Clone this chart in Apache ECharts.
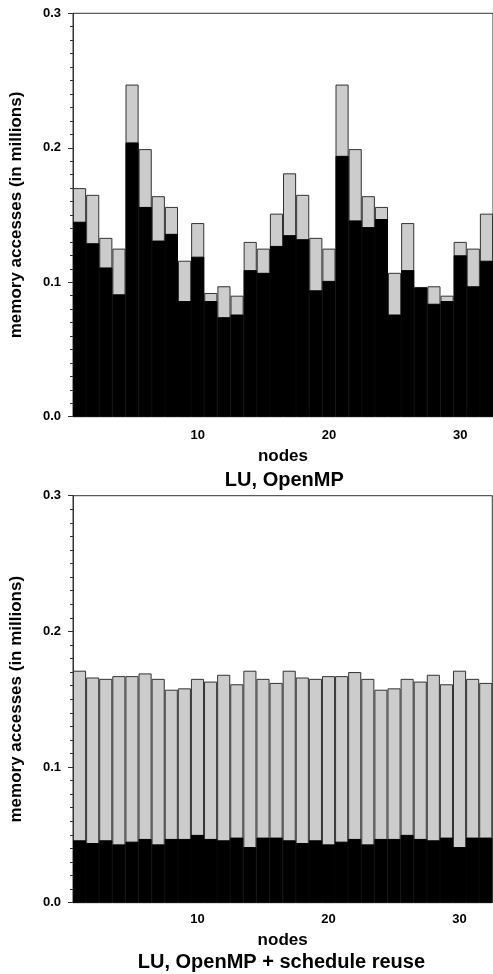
<!DOCTYPE html>
<html>
<head>
<meta charset="utf-8">
<script src="https://cdn.jsdelivr.net/npm/echarts@6/dist/echarts.min.js"></script>
<style>
  html, body { margin: 0; padding: 0; background: #fff; }
  #chart { width: 493px; height: 974px; }
</style>
</head>
<body>
<div id="chart"></div>
<script>
var nodes = [];
for (var i = 1; i <= 32; i++) nodes.push(String(i));

// LU, OpenMP
var luTotal = [0.170, 0.165, 0.133, 0.125, 0.247, 0.199, 0.164, 0.156, 0.116, 0.144, 0.092, 0.097, 0.090, 0.130, 0.125, 0.151,
               0.181, 0.165, 0.133, 0.125, 0.247, 0.199, 0.164, 0.156, 0.107, 0.144, 0.0965, 0.097, 0.090, 0.130, 0.125, 0.151];
var luPart  = [0.145, 0.129, 0.111, 0.091, 0.204, 0.156, 0.131, 0.136, 0.086, 0.119, 0.086, 0.074, 0.076, 0.109, 0.107, 0.127,
               0.135, 0.132, 0.094, 0.101, 0.194, 0.146, 0.141, 0.147, 0.076, 0.109, 0.096, 0.084, 0.086, 0.120, 0.097, 0.116];

// LU, OpenMP + schedule reuse
var reuseTotal = [0.171, 0.166, 0.165, 0.167, 0.167, 0.169, 0.165, 0.157, 0.158, 0.165, 0.163, 0.168, 0.161, 0.171, 0.165, 0.162,
                  0.171, 0.166, 0.165, 0.167, 0.167, 0.170, 0.165, 0.157, 0.158, 0.165, 0.163, 0.168, 0.161, 0.171, 0.165, 0.162];
var reusePart  = [0.046, 0.044, 0.046, 0.043, 0.045, 0.047, 0.043, 0.047, 0.047, 0.050, 0.047, 0.046, 0.048, 0.041, 0.048, 0.048,
                  0.046, 0.044, 0.046, 0.043, 0.045, 0.047, 0.043, 0.047, 0.047, 0.050, 0.047, 0.046, 0.048, 0.041, 0.048, 0.048];

var yTicks = [0, 0.1, 0.2, 0.3];
var titles = ['LU, OpenMP', 'LU, OpenMP + schedule reuse'];

var font = '"Liberation Sans", Arial, Helvetica, sans-serif';
var ink = '#333';

var grids = [
    { left: 72.5, top: 13.3, width: 423.6, height: 403.4, labelGap: 12, nameGap: 31, titleY: 480 },
    { left: 70.5, top: 495.7, width: 421.8, height: 407, labelGap: 10, nameGap: 29, titleY: 962 }
];

function xAxes(g) {
    return [{
        type: 'category', gridIndex: g, data: nodes, position: 'bottom',
        axisLine: { lineStyle: { color: ink } },
        axisTick: { interval: 0, alignWithLabel: true, length: 3, lineStyle: { color: ink } },
        axisLabel: {
            interval: function (idx) { return (idx + 1) % 10 === 0; },
            margin: grids[g].labelGap, fontFamily: font, fontWeight: 'bold', fontSize: 13, color: '#000'
        },
        name: 'nodes', nameLocation: 'middle', nameGap: grids[g].nameGap,
        nameTextStyle: { fontFamily: font, fontWeight: 'bold', fontSize: 17, color: '#000' }
    }, {
        type: 'category', gridIndex: g, data: nodes, position: 'bottom',
        axisLine: { show: false },
        axisTick: {
            interval: function (idx) { return (idx + 1) % 10 === 0; },
            alignWithLabel: true, length: 5, lineStyle: { color: ink }
        },
        axisLabel: { show: false }
    }];
}

function yAxis(g) {
    return {
        type: 'value', gridIndex: g, min: yTicks[0], max: yTicks[yTicks.length - 1], interval: 0.1,
        axisLine: { show: true, lineStyle: { color: ink } },
        axisTick: { show: true, length: 5, lineStyle: { color: ink } },
        minorTick: { show: true, splitNumber: 10, length: 3, lineStyle: { color: ink } },
        splitLine: { show: false },
        axisLabel: {
            margin: 12, fontFamily: font, fontWeight: 'bold', fontSize: 13, color: '#000',
            formatter: function (v) { return v.toFixed(1); }
        },
        name: 'memory accesses (in millions)', nameLocation: 'middle', nameGap: 48,
        nameTextStyle: { fontFamily: font, fontWeight: 'bold', fontSize: 17, color: '#000' }
    };
}

function bars(g, total, part) {
    return [{
        type: 'bar', xAxisIndex: g * 2, yAxisIndex: g, data: total,
        barCategoryGap: 0, barGap: '-100%',
        itemStyle: { color: '#cccccc', borderColor: ink, borderWidth: 1 },
        silent: true
    }, {
        type: 'bar', xAxisIndex: g * 2, yAxisIndex: g, data: part,
        barCategoryGap: 0, barGap: '-100%',
        itemStyle: { color: '#000', borderColor: '#000', borderWidth: 1 },
        silent: true
    }];
}

var chart = echarts.init(document.getElementById('chart'), null, { renderer: 'canvas' });

chart.setOption({
    animation: false,
    backgroundColor: '#fff',
    grid: grids.map(function (g) {
        return { show: true, borderColor: ink, borderWidth: 1, backgroundColor: 'transparent',
                 left: g.left, top: g.top, width: g.width, height: g.height };
    }),
    xAxis: xAxes(0).concat(xAxes(1)),
    yAxis: [yAxis(0), yAxis(1)],
    series: bars(0, luTotal, luPart).concat(bars(1, reuseTotal, reusePart)),
    graphic: titles.map(function (t, g) {
        return {
            type: 'text', x: grids[g].left + grids[g].width / 2, y: grids[g].titleY,
            style: { text: t, font: 'bold 20px ' + font, fill: '#000', textAlign: 'center', textVerticalAlign: 'middle' }
        };
    })
});
</script>
</body>
</html>
